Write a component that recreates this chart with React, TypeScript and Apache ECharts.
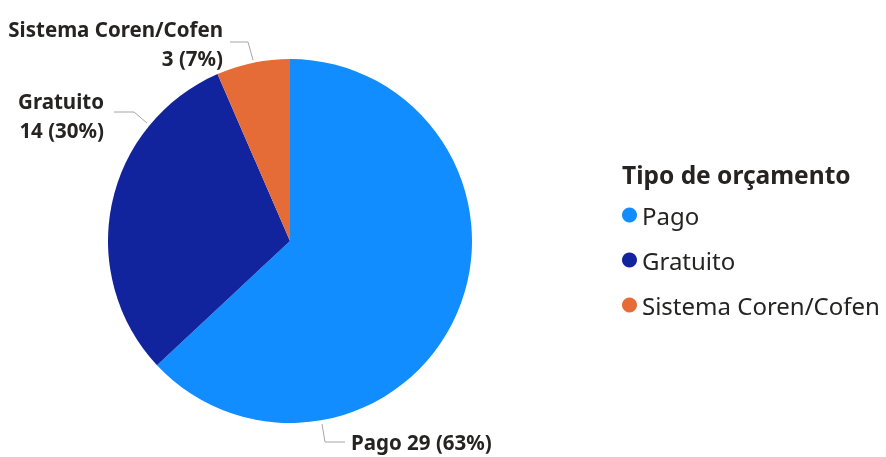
import { useEffect, useRef } from 'react';
import * as echarts from 'echarts';

const categories = ['Pago', 'Gratuito', 'Sistema Coren/Cofen'];
const values = [29, 14, 3];
const legendTitle = 'Tipo de orçamento';

const COLORS = ['#118DFF', '#12239E', '#E66C37'];
const FONT = '"Segoe UI", "Noto Sans", sans-serif';

// label placement (pixel positions of labels and their leader lines)
const LABEL_LAYOUT: any[] = [
  { x: 351, y: 442, align: 'left', line: [[322, 424], [325, 442], [345, 442]] },
  { x: 104, y: 115, align: 'right', line: [[147, 123], [134, 112], [114, 112]] },
  { x: 223, y: 43, align: 'right', line: [[253, 60], [248, 42], [230, 42]] },
];

export default function App() {
  const ref = useRef<HTMLDivElement>(null);
  useEffect(() => {
    if (!ref.current) return;
    const chart = echarts.init(ref.current, undefined, { renderer: 'svg' });
    const data = categories.map((name, i) => ({
      name,
      value: values[i],
      itemStyle: { color: COLORS[i] },
    }));
    chart.setOption({
      animation: false,
      title: {
        text: legendTitle,
        left: 617,
        top: 156,
        textStyle: { fontFamily: FONT, fontSize: 24.5, lineHeight: 26, fontWeight: 'bold', color: '#252423' },
      },
      legend: {
        orient: 'vertical',
        left: 617,
        top: 198,
        icon: 'circle',
        itemWidth: 15,
        itemHeight: 15,
        itemGap: 21,
        data: categories,
        textStyle: { fontFamily: FONT, fontSize: 24, lineHeight: 24, color: '#252423' },
      },
      series: [
        {
          type: 'pie',
          center: [290, 241],
          radius: [0, 182],
          startAngle: 90,
          clockwise: true,
          percentPrecision: 0,
          data,
          label: {
            show: true,
            position: 'outside',
            fontFamily: FONT,
            fontSize: 20.5,
            fontWeight: 'bold',
            color: '#252423',
            lineHeight: 29,
            overflow: 'none',
            formatter: (p: any) =>
              p.dataIndex === 0
                ? `${p.name} ${p.value} (${p.percent}%)`
                : `${p.name}\n${p.value} (${p.percent}%)`,
          },
          labelLine: {
            show: true,
            lineStyle: { color: '#A6A6A6', width: 1 },
          },
          labelLayout: (params: any) => {
            const l = LABEL_LAYOUT[params.dataIndex];
            return {
              x: l.x,
              y: l.y,
              align: l.align,
              verticalAlign: 'middle',
              labelLinePoints: l.line,
            };
          },
          emphasis: { disabled: true },
        },
      ],
    });
    return () => chart.dispose();
  }, []);
  return (
    <div
      ref={ref}
      style={{ position: 'fixed', left: 0, top: 0, width: 886, height: 457 }}
    />
  );
}
